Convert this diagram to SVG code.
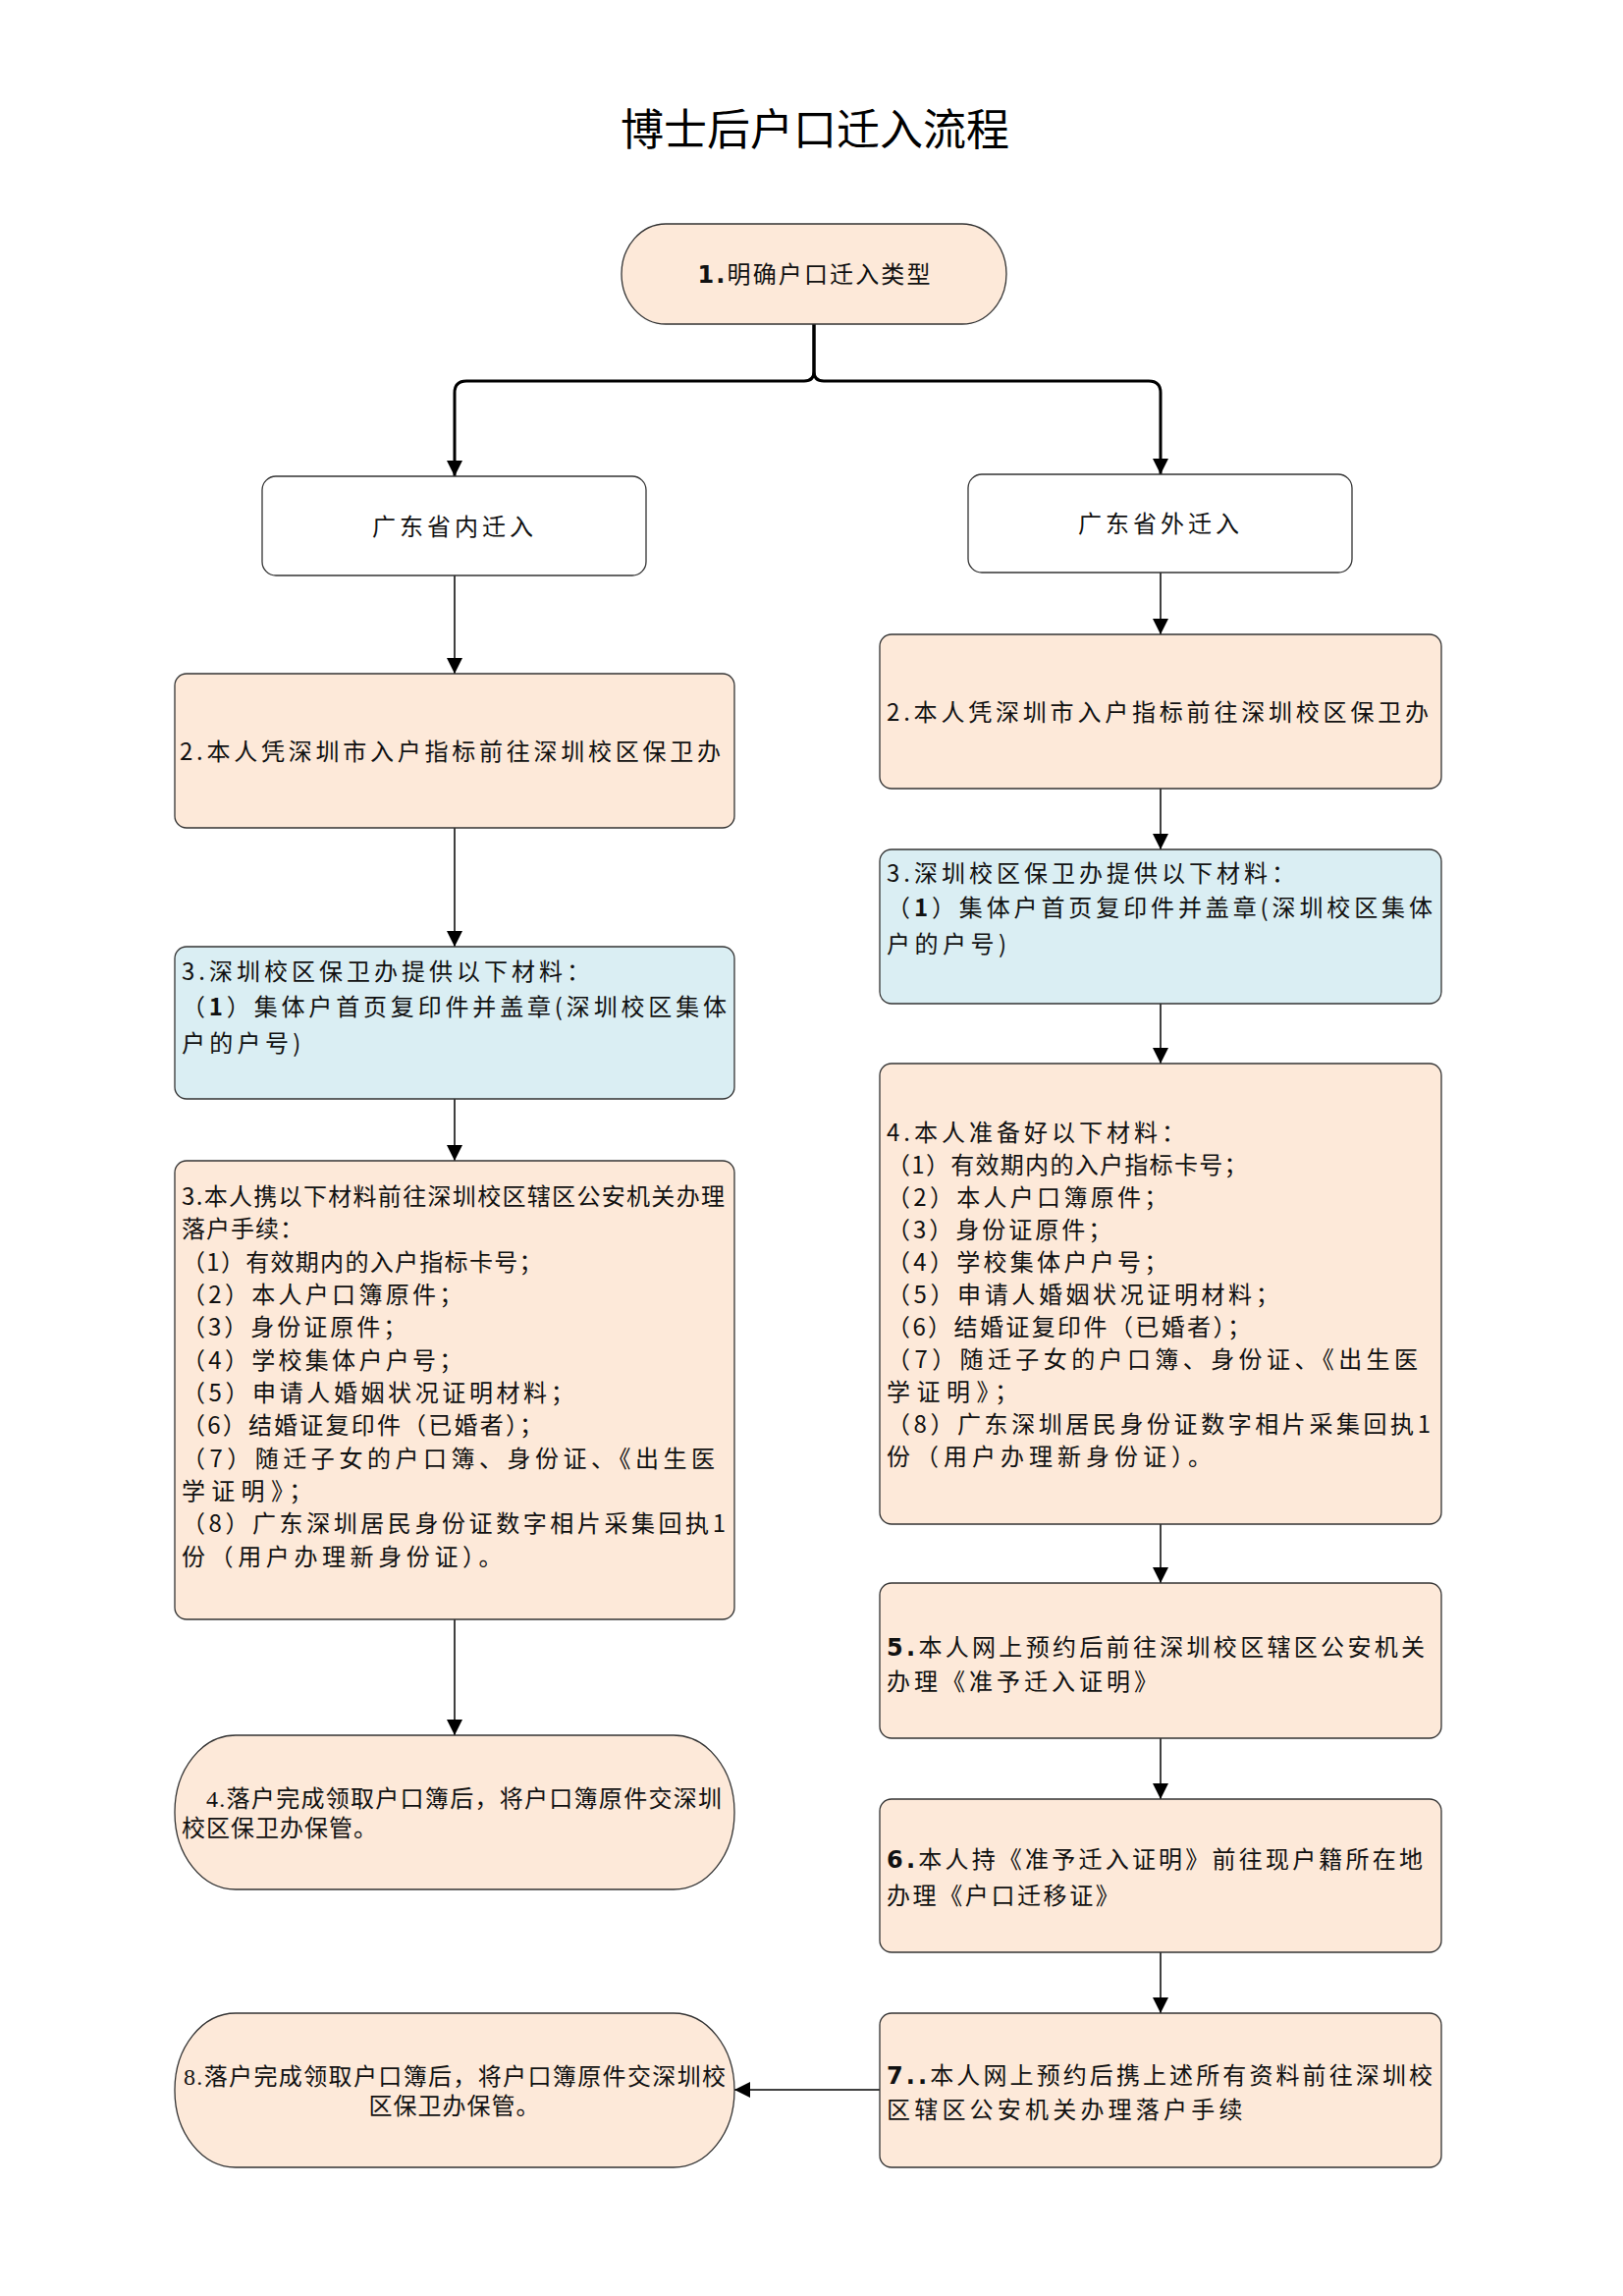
<svg xmlns="http://www.w3.org/2000/svg" width="1653" height="2338" viewBox="0 0 1653 2338">
<style>
.bg{fill:#ffffff}
.box{stroke:#333333;stroke-width:1.3}
.peach{fill:#FDE9D9}
.blue{fill:#DAEEF3}
.white{fill:#ffffff}
.t{font-family:"Noto Sans CJK SC","Liberation Sans",sans-serif;font-size:24px;fill:#111111}
.ts{font-family:"Liberation Serif","Noto Sans CJK SC",serif;font-size:24px;fill:#111111}
.title{font-family:"Noto Sans CJK SC","Liberation Sans",sans-serif;font-size:44px;fill:#000000}
.num{font-family:"DejaVu Sans","Noto Sans CJK SC",sans-serif;font-weight:bold}
.l1{letter-spacing:1px}
.l3{letter-spacing:3px}
.l4{letter-spacing:4px}
.thin{fill:none;stroke:#000000;stroke-width:1.5}
.thick{fill:none;stroke:#000000;stroke-width:3}
</style>
<defs>
<marker id="arr" markerUnits="userSpaceOnUse" markerWidth="16" markerHeight="16" refX="16" refY="8" orient="auto">
<path d="M0,0 L16,8 L0,16 z" fill="#000000"/>
</marker>
</defs>
<rect class="bg" x="0" y="0" width="1653" height="2338"/>
<text class="title" x="830" y="148" text-anchor="middle">博士后户口迁入流程</text>

<g id="connectors">
<path class="thick" d="M829,330 V378 Q829,388 819,388 H475 Q463,388 463,400 V485" marker-end="url(#arr)"/>
<path class="thick" d="M829,330 V378 Q829,388 839,388 H1170 Q1182,388 1182,400 V483" marker-end="url(#arr)"/>
<path class="thin" d="M463,586 V686" marker-end="url(#arr)"/>
<path class="thin" d="M1182,583 V646" marker-end="url(#arr)"/>
<path class="thin" d="M463,843 V964" marker-end="url(#arr)"/>
<path class="thin" d="M1182,803 V865" marker-end="url(#arr)"/>
<path class="thin" d="M463,1119 V1182" marker-end="url(#arr)"/>
<path class="thin" d="M1182,1022 V1083" marker-end="url(#arr)"/>
<path class="thin" d="M463,1649 V1767" marker-end="url(#arr)"/>
<path class="thin" d="M1182,1552 V1612" marker-end="url(#arr)"/>
<path class="thin" d="M1182,1770 V1832" marker-end="url(#arr)"/>
<path class="thin" d="M1182,1988 V2050" marker-end="url(#arr)"/>
<path class="thin" d="M896,2128 H748" marker-end="url(#arr)"/>
</g>

<g id="n1">
<rect class="box peach" x="633" y="228" width="392" height="102" rx="45" ry="51"/>
<text class="t" x="829" y="288" text-anchor="middle" textLength="237" lengthAdjust="spacing"><tspan class="num">1.</tspan>明确户口迁入类型</text>
</g>

<g id="n_in">
<rect class="box white" x="267" y="485" width="391" height="101" rx="14"/>
<text class="t l4" x="463" y="545" text-anchor="middle">广东省内迁入</text>
</g>

<g id="n_out">
<rect class="box white" x="986" y="483" width="391" height="100" rx="14"/>
<text class="t l4" x="1182" y="542" text-anchor="middle">广东省外迁入</text>
</g>

<g id="L2">
<rect class="box peach" x="178" y="686" width="570" height="157" rx="12"/>
<text class="t" x="183" y="774" textLength="551" lengthAdjust="spacing">2.本人凭深圳市入户指标前往深圳校区保卫办</text>
</g>

<g id="R2">
<rect class="box peach" x="896" y="646" width="572" height="157" rx="12"/>
<text class="t" x="903" y="734" textLength="552" lengthAdjust="spacing">2.本人凭深圳市入户指标前往深圳校区保卫办</text>
</g>

<g id="L3">
<rect class="box blue" x="178" y="964" width="570" height="155" rx="12"/>
<text class="t" x="185" y="998" letter-spacing="4">3.深圳校区保卫办提供以下材料：</text>
<text class="t" x="185" y="1034" textLength="555" lengthAdjust="spacing">（<tspan font-weight="bold">1</tspan>）集体户首页复印件并盖章(深圳校区集体</text>
<text class="t" x="185" y="1071" letter-spacing="4.3">户的户号)</text>
</g>

<g id="R3">
<rect class="box blue" x="896" y="865" width="572" height="157" rx="12"/>
<text class="t" x="903" y="898" letter-spacing="4">3.深圳校区保卫办提供以下材料：</text>
<text class="t" x="903" y="933" textLength="556" lengthAdjust="spacing">（<tspan font-weight="bold">1</tspan>）集体户首页复印件并盖章(深圳校区集体</text>
<text class="t" x="903" y="970" letter-spacing="4.5">户的户号)</text>
</g>

<g id="L3b">
<rect class="box peach" x="178" y="1182" width="570" height="467" rx="12"/>
<text class="t" x="185" y="1227" textLength="553" lengthAdjust="spacing">3.本人携以下材料前往深圳校区辖区公安机关办理</text>
<text class="t" x="185" y="1260" letter-spacing="1">落户手续：</text>
<text class="t" x="185" y="1294" letter-spacing="1.3">（1）有效期内的入户指标卡号；</text>
<text class="t" x="185" y="1327" letter-spacing="3.3">（2）本人户口簿原件；</text>
<text class="t" x="185" y="1360" letter-spacing="3">（3）身份证原件；</text>
<text class="t" x="185" y="1394" letter-spacing="3.3">（4）学校集体户户号；</text>
<text class="t" x="185" y="1427" letter-spacing="3.6">（5）申请人婚姻状况证明材料；</text>
<text class="t" x="185" y="1460" letter-spacing="2.2">（6）结婚证复印件（已婚者）；</text>
<text class="t" x="185" y="1494" textLength="543" lengthAdjust="spacing">（7）随迁子女的户口簿、身份证、《出生医</text>
<text class="t" x="185" y="1527" letter-spacing="6.3">学证明》；</text>
<text class="t" x="185" y="1560" textLength="554" lengthAdjust="spacing">（8）广东深圳居民身份证数字相片采集回执1</text>
<text class="t" x="185" y="1594" letter-spacing="4.6">份（用户办理新身份证）。</text>
</g>

<g id="R4">
<rect class="box peach" x="896" y="1083" width="572" height="469" rx="12"/>
<text class="t" x="903" y="1162" letter-spacing="4">4.本人准备好以下材料：</text>
<text class="t" x="903" y="1195" letter-spacing="1.3">（1）有效期内的入户指标卡号；</text>
<text class="t" x="903" y="1228" letter-spacing="3.3">（2）本人户口簿原件；</text>
<text class="t" x="903" y="1261" letter-spacing="3">（3）身份证原件；</text>
<text class="t" x="903" y="1294" letter-spacing="3.3">（4）学校集体户户号；</text>
<text class="t" x="903" y="1327" letter-spacing="3.6">（5）申请人婚姻状况证明材料；</text>
<text class="t" x="903" y="1360" letter-spacing="2.4">（6）结婚证复印件（已婚者）；</text>
<text class="t" x="903" y="1393" textLength="541" lengthAdjust="spacing">（7）随迁子女的户口簿、身份证、《出生医</text>
<text class="t" x="903" y="1426" letter-spacing="6.5">学证明》；</text>
<text class="t" x="903" y="1459" textLength="554" lengthAdjust="spacing">（8）广东深圳居民身份证数字相片采集回执1</text>
<text class="t" x="903" y="1492" letter-spacing="5">份（用户办理新身份证）。</text>
</g>

<g id="R5">
<rect class="box peach" x="896" y="1612" width="572" height="158" rx="12"/>
<text class="t" x="903" y="1686" textLength="548" lengthAdjust="spacing"><tspan class="num">5.</tspan>本人网上预约后前往深圳校区辖区公安机关</text>
<text class="t" x="903" y="1721" letter-spacing="4">办理《准予迁入证明》</text>
</g>

<g id="R6">
<rect class="box peach" x="896" y="1832" width="572" height="156" rx="12"/>
<text class="t" x="903" y="1902" textLength="546" lengthAdjust="spacing"><tspan class="num">6.</tspan>本人持《准予迁入证明》前往现户籍所在地</text>
<text class="t" x="903" y="1939" letter-spacing="2.6">办理《户口迁移证》</text>
</g>

<g id="R7">
<rect class="box peach" x="896" y="2050" width="572" height="157" rx="12"/>
<text class="t" x="903" y="2122" textLength="556" lengthAdjust="spacing"><tspan class="num">7..</tspan>本人网上预约后携上述所有资料前往深圳校</text>
<text class="t" x="903" y="2157" letter-spacing="4.2">区辖区公安机关办理落户手续</text>
</g>

<g id="L4">
<rect class="box peach" x="178" y="1767" width="570" height="157" rx="62" ry="78"/>
<text class="ts" x="210" y="1840" textLength="525" lengthAdjust="spacing">4.落户完成领取户口簿后，将户口簿原件交深圳</text>
<text class="ts l1" x="185" y="1870">校区保卫办保管。</text>
</g>

<g id="L8">
<rect class="box peach" x="178" y="2050" width="570" height="157" rx="62" ry="78"/>
<text class="ts" x="463" y="2123" text-anchor="middle" textLength="552" lengthAdjust="spacing">8.落户完成领取户口簿后，将户口簿原件交深圳校</text>
<text class="ts l1" x="463" y="2153" text-anchor="middle">区保卫办保管。</text>
</g>
</svg>
